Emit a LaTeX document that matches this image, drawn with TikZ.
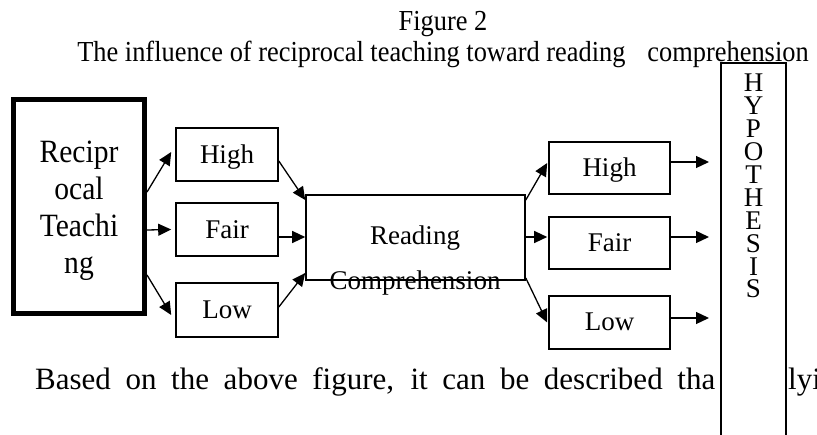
\documentclass[tikz,border=0pt]{standalone}
\usepackage{fontspec}
\setmainfont{Liberation Serif}
\newfontfamily\narrowserif{Liberation Serif}[FakeStretch=0.91]
\usetikzlibrary{arrows.meta}
\begin{document}
\begin{tikzpicture}[x=1pt,y=-1pt,
  box/.style={draw, line width=1.6pt, inner sep=0pt},
  lbl/.style={font=\fontsize{27}{30}\selectfont, text height=18pt, text depth=0pt},
  rlbl/.style={font=\fontsize{27}{30}\selectfont, text height=17pt, text depth=0pt},
  arr/.style={line width=1.3pt, -{Triangle[length=13pt,width=12pt]}}]
\path[use as bounding box, fill=white] (0,0) rectangle (817,435);
\clip (0,0) rectangle (817,435);
% titles
\node[anchor=base, inner sep=0pt, font=\narrowserif\fontsize{29}{32}\selectfont] (fig) at (443,31) {Figure 2};
\node[anchor=base, inner sep=0pt, font=\narrowserif\fontsize{29}{32}\selectfont] (sub) at (443,62) {The influence of reciprocal teaching toward reading\hspace{22pt}comprehension};
% reciprocal teaching
\node[box, line width=5pt, minimum width=131pt, minimum height=214pt] (rt) at (79,207) {};
\node[anchor=base, align=center, inner sep=0pt, font=\narrowserif\fontsize{32.5}{37}\selectfont] (rtt) at (79,274) {Recipr\\ocal\\Teachi\\ng};
% left level boxes
\node[box, lbl, minimum width=102pt, minimum height=53pt] (lh) at (227,154.5) {High};
\node[box, lbl, minimum width=102pt, minimum height=53pt] (lf) at (227,229.5) {Fair};
\node[box, lbl, minimum width=102pt, minimum height=54pt] (ll) at (227,310) {Low};
% reading comprehension
\node[box, minimum width=219pt, minimum height=85pt] (rc) at (415.5,237.5) {};
\node[anchor=base, inner sep=0pt, font=\fontsize{27}{30}\selectfont] (rct1) at (415,245) {Reading};
\node[anchor=base, inner sep=0pt, font=\fontsize{27}{30}\selectfont] (rct2) at (415,290) {Comprehension};
% right level boxes
\node[box, rlbl, minimum width=121pt, minimum height=52pt] (rh) at (609.5,168) {High};
\node[box, rlbl, minimum width=121pt, minimum height=52pt] (rf) at (609.5,243) {Fair};
\node[box, rlbl, minimum width=121pt, minimum height=53pt] (rl) at (609.5,322.5) {Low};
% bottom text
\node[anchor=base west, inner sep=0pt, font=\fontsize{31}{36}\selectfont] (based) at (35,390) {\makebox[680pt][s]{Based on the above figure, it can be described tha}};
\node[anchor=base west, inner sep=0pt, font=\fontsize{31}{36}\selectfont] (lyi) at (788,390) {lyi};
% hypothesis
\node[box, fill=white, minimum width=65pt, minimum height=400pt, anchor=north west] (hy) at (720.2,62.2) {};
\node[anchor=base, align=center, inner sep=0pt, font=\fontsize{27}{22.9}\selectfont] (hyt) at (753.5,298) {H\\Y\\P\\O\\T\\H\\E\\S\\I\\S};
\coordinate (h1) at (709,162);
\coordinate (h2) at (709,237);
\coordinate (h3) at (709,318);
% arrows
\draw[arr] ([yshift=15pt]rt.east) -- ([xshift=-4pt,yshift=2.5pt]lh.west);
\draw[arr] ([yshift=-23pt]rt.east) -- ([xshift=-4pt]lf.west);
\draw[arr] ([yshift=-68pt]rt.east) -- ([xshift=-4pt,yshift=-5pt]ll.west);
\draw[arr] ([yshift=-6.5pt]lh.east) -- ([yshift=37.5pt]rc.west);
\draw[arr] ([yshift=-7.5pt]lf.east) -- ([yshift=0.5pt]rc.west);
\draw[arr] ([yshift=3pt]ll.east) -- ([yshift=-35.5pt]rc.west);
\draw[arr] ([yshift=37.5pt]rc.east) -- ([xshift=-1pt,yshift=5pt]rh.west);
\draw[arr] ([yshift=0.5pt]rc.east) -- ([xshift=-1pt,yshift=6pt]rf.west);
\draw[arr] ([yshift=-40.5pt]rc.east) -- ([xshift=-1pt]rl.west);
\draw[arr] ([yshift=6pt]rh.east) -- (h1);
\draw[arr] ([yshift=6pt]rf.east) -- (h2);
\draw[arr] ([yshift=4.5pt]rl.east) -- (h3);
\end{tikzpicture}
\end{document}
